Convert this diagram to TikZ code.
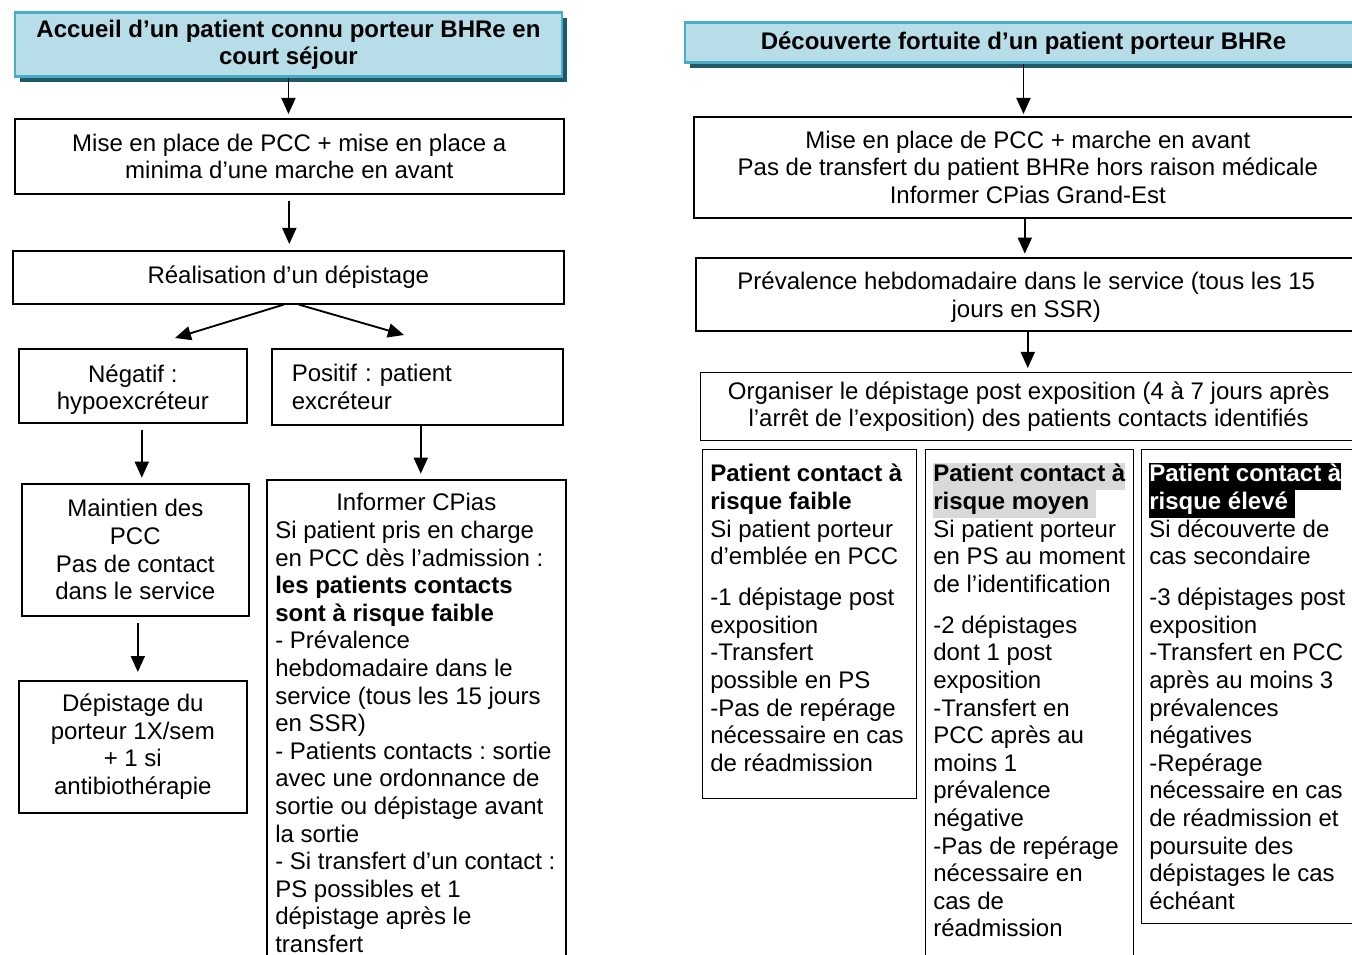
\documentclass[tikz,border=0pt]{standalone}
\usepackage{fontspec}
\setmainfont{Liberation Sans}
\usetikzlibrary{arrows.meta,shadows,positioning}
\definecolor{headfill}{HTML}{B7DDE8}
\definecolor{headline}{HTML}{4BACC6}
\definecolor{headshade}{HTML}{205867}
\definecolor{lightmark}{HTML}{D9D9D9}
\newcommand{\markline}[2]{{\setlength{\fboxsep}{0pt}\colorbox{#1}{\strut #2}}}
\frenchspacing

\begin{document}
\begin{tikzpicture}[x=0.75pt,y=-0.75pt,
  font=\fontsize{18}{20.7}\selectfont,
  >={Triangle[length=12pt,width=10.5pt]},
  head/.style={draw=headline,line width=2.2pt,fill=headfill,font=\fontsize{18}{20.7}\selectfont\bfseries,
    align=center,anchor=north west,inner sep=0pt,
    drop shadow={shadow xshift=4pt,shadow yshift=-4pt,fill=headshade,opacity=1}},
  box/.style={draw,line width=1.2pt,align=center,anchor=north west,inner sep=0pt},
  cellbox/.style={draw,line width=0.8pt,anchor=north west,inner sep=0pt},
  celltext/.style={anchor=north west,align=left,inner xsep=6pt,inner ysep=10pt},
  boxsize/.style 2 args={minimum width=#1*0.75pt,minimum height=#2*0.75pt},
  arr/.style={->,line width=1.4pt,shorten <=4.5pt,shorten >=4pt}]
  \useasboundingbox (0,0) rectangle (1352,955);
  \clip (0,0) rectangle (1352,955);

  % colonne gauche : patient connu
  \node[head,boxsize={547}{64}] (accueil) at (13.5,11.5) {Accueil d’un patient connu porteur BHRe en\\court séjour};
  \node[box,boxsize={549}{75}] (pcc) at (14,118) {Mise en place de PCC + mise en place a\\minima d’une marche en avant};
  \node[box,boxsize={551}{53}] (depist) at (12,250) {Réalisation d’un dépistage};
  \node[box,boxsize={228}{74}] (neg) at (18,348) {\rule{0pt}{19pt}Négatif :\\hypoexcréteur};
  \node[box,boxsize={291}{76},align=left,text width=188.25pt] (pos) at (271,348) {Positif : patient\\excréteur};
  \node[box,boxsize={227}{132}] (maint) at (21,483) {Maintien des\\PCC\\Pas de contact\\dans le service};
  \node[box,boxsize={228}{132}] (suivi) at (18,680) {Dépistage du\\porteur 1X/sem\\+ 1 si\\antibiothérapie};
  \node[cellbox,boxsize={299}{600},line width=1.2pt] (cpias) at (266,479) {};
  \node[celltext,inner ysep=9.2pt,inner xsep=6.75pt] (cpiastxt) at (cpias.north west)
    {\hspace*{45.75pt}\strut Informer CPias\\Si patient pris en charge\\en PCC dès l’admission :\\
     \textbf{les patients contacts}\\\textbf{sont à risque faible}\\- Prévalence\\hebdomadaire dans le\\
     service (tous les 15 jours\\en SSR)\\- Patients contacts : sortie\\avec une ordonnance de\\
     sortie ou dépistage avant\\la sortie\\- Si transfert d’un contact :\\PS possibles et 1\\
     dépistage après le\\transfert};

  \coordinate (negtip) at (175,338);
  \coordinate (postip) at (404,335);
  \draw[arr,shorten <=0pt,shorten >=3pt] (accueil.south) -- (accueil.south |- pcc.north);
  \draw[arr,shorten <=5pt,shorten >=4.5pt] (pcc.south) -- (pcc.south |- depist.north);
  \draw[arr,shorten <=0pt,shorten >=0pt] ([xshift=-3.4pt]depist.south) -- (negtip);
  \draw[arr,shorten <=0pt,shorten >=0pt] ([xshift=7.9pt]depist.south) -- (postip);
  \draw[arr] ([xshift=6.75pt]neg.south) -- ([xshift=6.75pt]neg.south |- maint.north);
  \draw[arr,shorten <=0pt] ([xshift=2.6pt]pos.south) -- ([xshift=2.6pt]pos.south |- cpias.north);
  \draw[arr,shorten <=5pt,shorten >=6pt] ([xshift=1.9pt]maint.south) -- ([xshift=1.9pt]maint.south |- suivi.north);

  % colonne droite : découverte fortuite
  \node[head,boxsize={677}{40}] (fortuit) at (683.5,21.5) {Découverte fortuite d’un patient porteur BHRe};
  \node[box,boxsize={668}{101}] (mesures) at (693,116) {Mise en place de PCC + marche en avant\\Pas de transfert du patient BHRe hors raison médicale\\Informer CPias Grand-Est};
  \node[box,boxsize={661}{73}] (hebdo) at (695,257) {\rule{0pt}{17.6pt}Prévalence hebdomadaire dans le service (tous les 15\\jours en SSR)};
  \node[box,boxsize={656}{68},line width=1pt] (organ) at (700,372) {Organiser le dépistage post exposition (4 à 7 jours après\\l’arrêt de l’exposition) des patients contacts identifiés};

  \node[cellbox,boxsize={214}{349}] (faible) at (702,449) {};
  \node[celltext] (faibletxt) at (faible.north west)
    {\strut\textbf{Patient contact à}\\\textbf{risque faible}\\Si patient porteur\\d’emblée en PCC\\[10pt]
     -1 dépistage post\\exposition\\-Transfert\\possible en PS\\-Pas de repérage\\
     nécessaire en cas\\de réadmission};
  \node[cellbox,boxsize={208}{560}] (moyen) at (925,449) {};
  \node[celltext] (moyentxt) at (moyen.north west)
    {\markline{lightmark}{\textbf{Patient contact à}}\\\markline{lightmark}{\textbf{risque moyen}\ }\\
     Si patient porteur\\en PS au moment\\de l’identification\\[10pt]
     -2 dépistages\\dont 1 post\\exposition\\-Transfert en\\PCC après au\\moins 1\\prévalence\\
     négative\\-Pas de repérage\\nécessaire en\\cas de\\réadmission};
  \node[cellbox,boxsize={216}{474}] (eleve) at (1141,449) {};
  \node[celltext] (elevetxt) at (eleve.north west)
    {\markline{black}{\color{white}\textbf{Patient contact à}}\\\markline{black}{\color{white}\textbf{risque élevé}\ }\\
     Si découverte de\\cas secondaire\\[10pt]
     -3 dépistages post\\exposition\\-Transfert en PCC\\après au moins 3\\prévalences\\négatives\\
     -Repérage\\nécessaire en cas\\de réadmission et\\poursuite des\\dépistages le cas\\échéant};

  \draw[arr,shorten <=0pt,shorten >=1.5pt] (fortuit.south) -- (fortuit.south |- mesures.north);
  \draw[arr,shorten <=0pt,shorten >=2.5pt] ([xshift=-2.25pt]mesures.south) -- ([xshift=-2.25pt]mesures.south |- hebdo.north);
  \draw[arr,shorten <=0pt,shorten >=3pt] ([xshift=1.1pt]hebdo.south) -- ([xshift=1.1pt]hebdo.south |- organ.north);
\end{tikzpicture}
\end{document}
